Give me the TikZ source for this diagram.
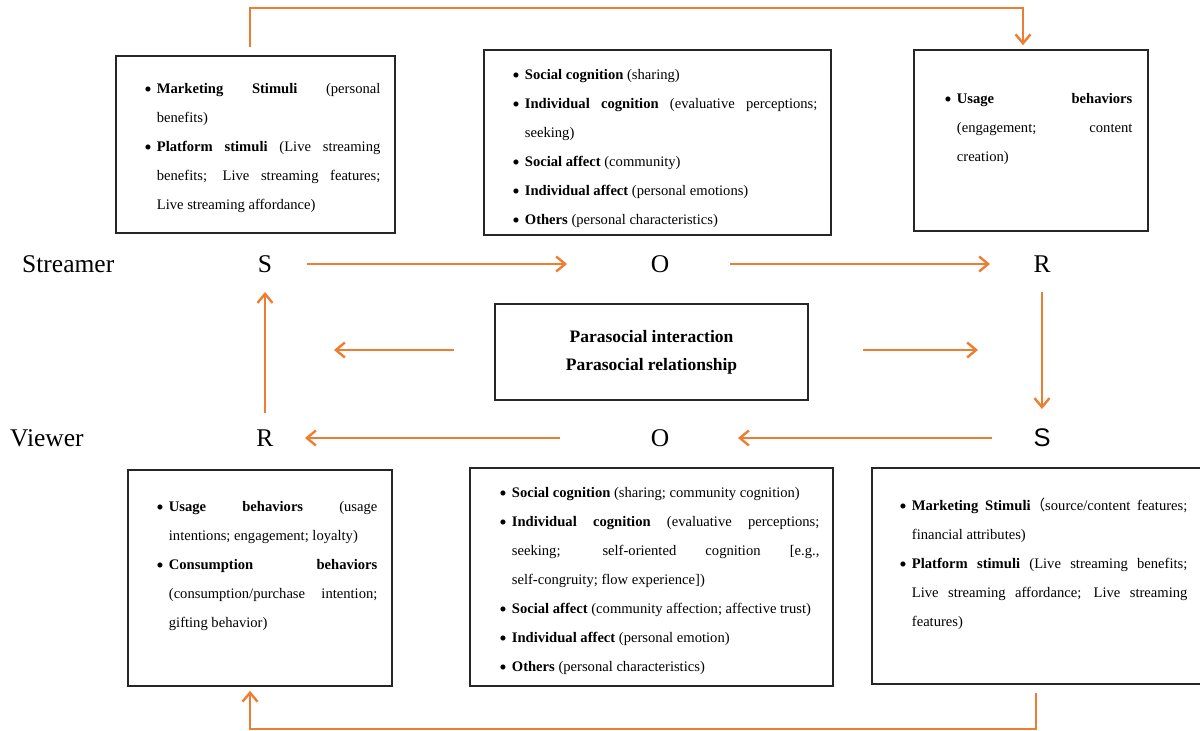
\documentclass[tikz,border=0pt]{standalone}
\usepackage{fontspec}
\setmainfont{Liberation Serif}
\newfontfamily\sansletter{Liberation Sans}
\newfontfamily\cjkparen{Noto Sans CJK SC}
\usepackage{graphicx}
\usepackage{tikz}
\usetikzlibrary{arrows.meta,positioning}
\usepackage{xcolor}
\definecolor{sorange}{RGB}{237,125,49}

\hyphenpenalty=10000
\exhyphenpenalty=10000
\tolerance=10000
\hbadness=10000

% one bullet item with hanging indent
\newcommand{\sorbullet}[2]{\par\hangindent=12.5pt\hangafter=1\noindent\makebox[12.5pt][l]{\raisebox{-0.21em}{\scalebox{1.45}{\textbullet}}}\textbf{#1}#2\par}

\begin{document}
\begin{tikzpicture}[x=1pt, y=-1pt,
    box/.style={draw=black!85, line width=1.6pt, inner sep=0pt},
    boxtext/.style={inner sep=0pt, align=justify, font=\fontsize{14.6}{29}\selectfont},
    letter/.style={font=\fontsize{25.5}{30}\selectfont, inner sep=0pt},
    flow/.style={draw=sorange, line width=2.4pt, -{Straight Barb[length=9pt,width=15pt]}},
  ]
  \useasboundingbox (0,0) rectangle (1200,731);

  % streamer side
  \node[letter, anchor=west] (streamer) at (22,264) {Streamer};
  \node[letter] (sS) at (265,264) {S};
  \node[letter] (sO) at (660,264) {O};
  \node[letter] (sR) at (1042,264) {R};

  % viewer side
  \node[letter, anchor=west] (viewer) at (10,438) {Viewer};
  \node[letter] (vR) at (265,438) {R};
  \node[letter] (vO) at (660,438) {O};
  \node[letter] (vS) at (1042,438) {\sansletter S};

  % boxes
  \node[box, minimum width=279pt, minimum height=177pt] (tlbox) at (255.5,144.5) {};
  \node[box, minimum width=347pt, minimum height=185pt] (tmbox) at (657.5,142.5) {};
  \node[box, minimum width=234pt, minimum height=181pt] (trbox) at (1031,140.5) {};
  \node[box, minimum width=264pt, minimum height=216pt] (blbox) at (260,578) {};
  \node[box, minimum width=363pt, minimum height=218pt] (bmbox) at (651.5,577) {};
  \node[box, minimum width=331pt, minimum height=216pt] (brbox) at (1037.5,576) {};
  \node[box, minimum width=313pt, minimum height=96pt, align=center,
        font=\fontsize{17.5}{28}\selectfont\bfseries] (pbox) at (651.5,352)
        {Parasocial interaction\\Parasocial relationship};

  % box texts
  \node[boxtext, text width=236pt, below right=9pt and 29pt of tlbox.north west] (tltext) {%
    \sorbullet{Marketing Stimuli}{ (personal\linebreak benefits)}
    \sorbullet{Platform stimuli}{ (Live streaming\linebreak benefits; Live streaming features;\linebreak Live streaming affordance)}};
  \node[boxtext, text width=305pt, below right=1pt and 29pt of tmbox.north west] (tmtext) {%
    \sorbullet{Social cognition}{ (sharing)}
    \sorbullet{Individual cognition}{ (evaluative perceptions;\linebreak seeking)}
    \sorbullet{Social affect}{ (community)}
    \sorbullet{Individual affect}{ (personal emotions)}
    \sorbullet{Others}{ (personal characteristics)}};
  \node[boxtext, text width=188pt, below right=25pt and 31pt of trbox.north west] (trtext) {%
    \sorbullet{Usage behaviors}{\linebreak (engagement; content\linebreak creation)}};
  \node[boxtext, text width=221pt, below right=13pt and 29pt of blbox.north west] (bltext) {%
    \sorbullet{Usage behaviors}{ (usage\linebreak intentions; engagement; loyalty)}
    \sorbullet{Consumption behaviors}{\linebreak (consumption/purchase intention;\linebreak gifting behavior)}};
  \node[boxtext, text width=320pt, below right=1pt and 30pt of bmbox.north west] (bmtext) {%
    \sorbullet{Social cognition}{ (sharing; community cognition)}
    \sorbullet{Individual cognition}{ (evaluative perceptions;\linebreak seeking; self-oriented cognition [e.g.,\linebreak self-congruity; flow experience])}
    \sorbullet{Social affect}{ (community affection; affective trust)}
    \sorbullet{Individual affect}{ (personal emotion)}
    \sorbullet{Others}{ (personal characteristics)}};
  \node[boxtext, text width=288pt, below right=14pt and 28pt of brbox.north west] (brtext) {%
    \sorbullet{Marketing Stimuli}{{\cjkparen （}source/content features;\linebreak financial attributes)}
    \sorbullet{Platform stimuli}{ (Live streaming benefits;\linebreak Live streaming affordance; Live streaming\linebreak features)}};

  % S-O-R flows
  \draw[flow, shorten <=42pt, shorten >=93pt] (sS.center) -- (sO.center);
  \draw[flow, shorten <=70pt, shorten >=52pt] (sO.center) -- (sR.center);
  \draw[flow, shorten <=28pt, shorten >=29pt] (sR.center) -- (vS.center);
  \draw[flow, shorten <=50pt, shorten >=78pt] (vS.center) -- (vO.center);
  \draw[flow, shorten <=100pt, shorten >=40pt] (vO.center) -- (vR.center);
  \draw[flow, shorten <=25pt, shorten >=28pt] (vR.center) -- (sS.center);

  % parasocial arrows
  \coordinate (psleft) at (334,350);
  \coordinate (psright) at (978,350);
  \draw[flow, shorten <=40pt] (pbox.west |- psleft) -- (psleft);
  \draw[flow, shorten <=54pt] (pbox.east |- psright) -- (psright);

  % outer loops
  \draw[flow] ([shift={(-5.5,-8)}]tlbox.north) -- ++(0,-39) -| ([shift={(-8,-4)}]trbox.north);
  \draw[flow] ([shift={(-1.5,8)}]brbox.south) -- ++(0,36) -| ([shift={(-10,4)}]blbox.south);
\end{tikzpicture}
\end{document}
